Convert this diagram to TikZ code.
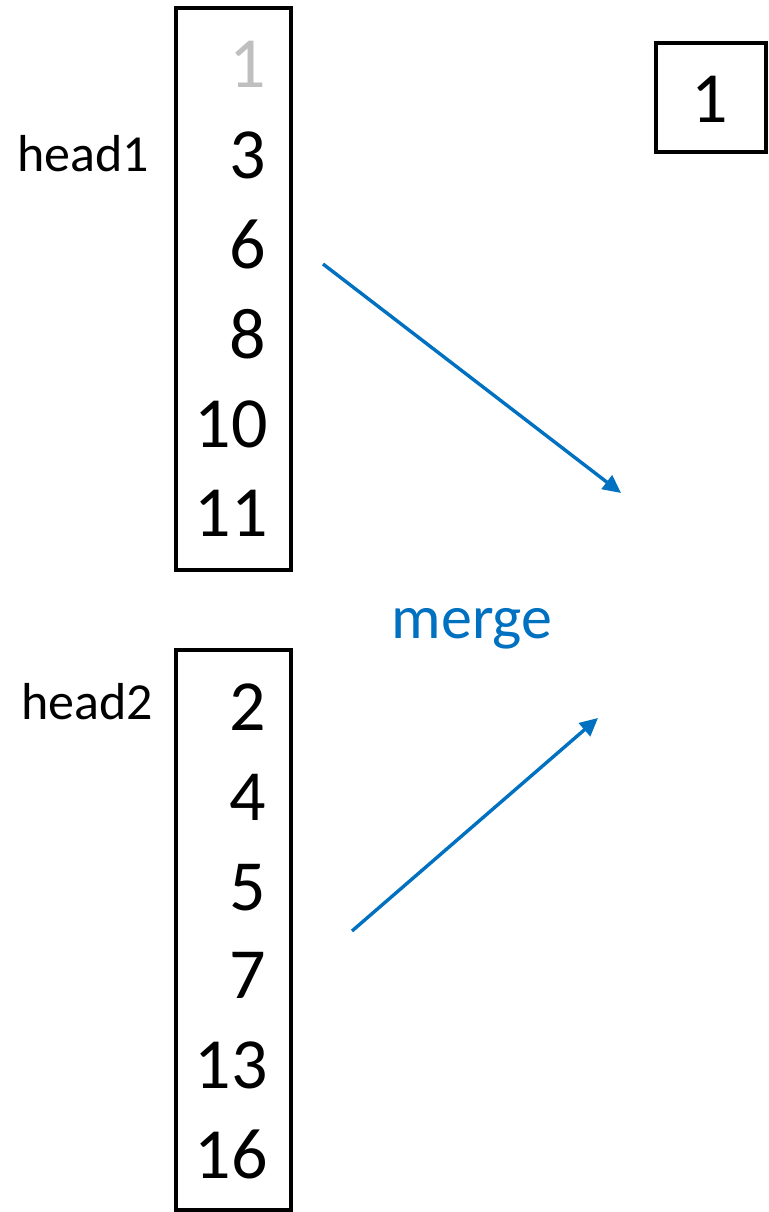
\documentclass[tikz,border=0pt]{standalone}
\usepackage{fontspec}
\setmainfont{Carlito}
\usetikzlibrary{arrows.meta}
\definecolor{mblue}{HTML}{0070C0}
\definecolor{lgray}{HTML}{BFBFBF}
\begin{document}
\begin{tikzpicture}[x=1pt,y=-1pt,
  listbox/.style={draw=black,line width=3.4pt},
  num/.style={anchor=base east,inner sep=0pt,font=\fontsize{72}{80}\selectfont},
  lab/.style={anchor=base west,inner sep=0pt,font=\fontsize{52}{60}\selectfont},
  arr/.style={draw=mblue,line width=3.4pt,-{Triangle[length=18pt,width=17pt]}}]
\useasboundingbox (0,0) rectangle (768,1212);
\draw[listbox] (176,8) rectangle (291,570);
\draw[listbox] (176,650) rectangle (291,1210);
\draw[listbox] (656,43) rectangle (766,152);
\node[num,text=lgray] (a1) at (266,88) {1};
\node[num] (a2) at (266,178) {3};
\node[num] (a3) at (266,268) {6};
\node[num] (a4) at (266,358) {8};
\node[num] (a5) at (268,447) {10};
\node[num] (a6) at (268,536) {11};
\node[num] (b1) at (266,730) {2};
\node[num] (b2) at (266,820) {4};
\node[num] (b3) at (266,910) {5};
\node[num] (b4) at (266,998) {7};
\node[num] (b5) at (268,1088) {13};
\node[num] (b6) at (268,1178) {16};
\node[num] (out) at (728,123) {1};
\node[lab] (h1) at (17,171) {head1};
\node[lab] (h2) at (21,719) {head2};
\node[anchor=base,inner sep=0pt,text=mblue,font=\fontsize{62}{70}\selectfont] (merge) at (472,638) {merge};
\coordinate (s1) at (323,264);
\coordinate (e1) at (621,493);
\coordinate (s2) at (352,931);
\coordinate (e2) at (598,718);
\draw[arr] (s1) -- (e1);
\draw[arr] (s2) -- (e2);
\end{tikzpicture}
\end{document}
